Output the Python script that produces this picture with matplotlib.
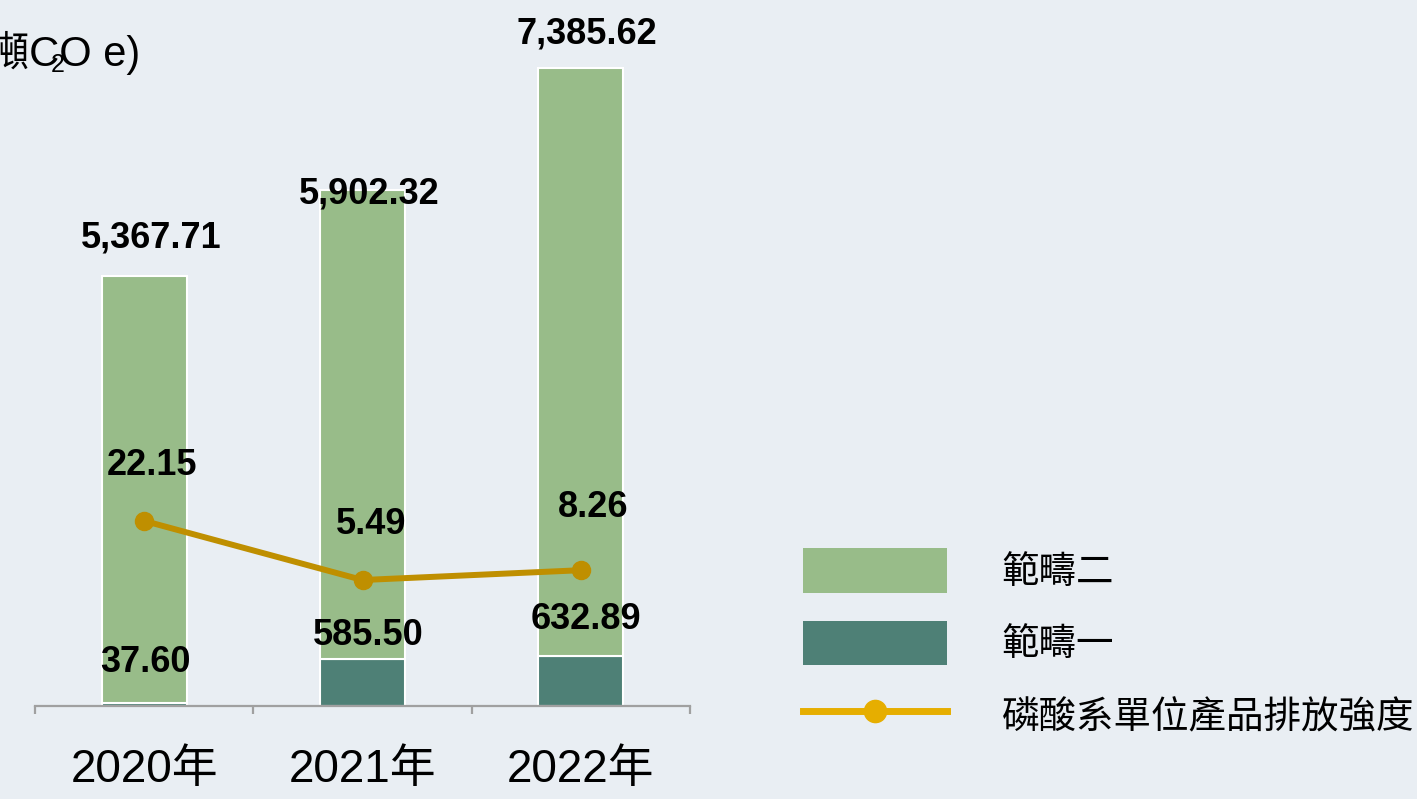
import matplotlib
matplotlib.use("Agg")
import matplotlib.pyplot as plt
from matplotlib.patches import Patch
from matplotlib.lines import Line2D

### Data
years = ["2020年", "2021年", "2022年"]
scope1 = [37.60, 585.50, 632.89]
scope2 = [5367.71, 5902.32, 7385.62]
intensity = [22.15, 5.49, 8.26]

### Styles
bg = "#E9EEF3"
c_scope2 = "#98BC89"
c_scope1 = "#4E8076"
c_line = "#BF8F00"
c_line_legend = "#E6AE00"
num_font = ["Liberation Sans", "Noto Sans CJK TC"]
cjk_font = ["Noto Sans CJK TC", "Liberation Sans"]

### label offsets in points ( dx , dy ) from the anchor
off_scope2 = [(5, 27), (5, -3), (4, 24)]
off_scope1 = [(1, 29), (4, 17), (4, 26)]
off_line = [(6, 40), (6, 40), (9, 45)]

fig = plt.figure(figsize=(14.17, 7.99), dpi=100, facecolor=bg)
ax = fig.add_axes([35 / 1417, 1 - 706 / 799, 655 / 1417, 706 / 799])
ax.set_facecolor(bg)

x = list(range(len(years)))
width = 0.39

ax.bar(x, scope1, width, color=c_scope1, edgecolor="white", linewidth=1.5, zorder=2)
ax.bar(x, scope2, width, bottom=scope1, color=c_scope2, edgecolor="white", linewidth=1.5, zorder=2)

ax.set_xlim(-0.5, len(years) - 0.5)
ax.set_ylim(0, 8870)

### Axis styling
for side in ["top", "left", "right"]:
    ax.spines[side].set_visible(False)
ax.spines["bottom"].set_color("#A0A0A0")
ax.spines["bottom"].set_linewidth(1.6)
ax.set_yticks([])
ax.set_xticks([i - 0.5 for i in range(len(years) + 1)])
ax.set_xticklabels([])
ax.tick_params(axis="x", which="major", length=6, width=1.6, color="#A0A0A0")
ax.set_xticks(x, minor=True)
ax.set_xticklabels(years, minor=True, fontsize=33, family=num_font)
ax.tick_params(axis="x", which="minor", length=0, pad=30)

### Value labels on bars
for i in x:
    ax.annotate(f"{scope2[i]:,.2f}", (i, scope1[i] + scope2[i]), xytext=off_scope2[i],
                textcoords="offset points", ha="center", va="center",
                fontsize=26, fontweight="bold", family=num_font, zorder=5)
    ax.annotate(f"{scope1[i]:,.2f}", (i, scope1[i]), xytext=off_scope1[i],
                textcoords="offset points", ha="center", va="center",
                fontsize=26, fontweight="bold", family=num_font, zorder=5)

### Intensity line on second axis
ax2 = ax.twinx()
ax2.set_ylim(-30, 168.9)
ax2.axis("off")
ax2.plot(x, intensity, color=c_line, linewidth=4.3, marker="o", markersize=13, zorder=3)
for i in x:
    ax2.annotate(f"{intensity[i]:.2f}", (i, intensity[i]), xytext=off_line[i],
                 textcoords="offset points", ha="center", va="center",
                 fontsize=26, fontweight="bold", family=num_font, zorder=5)

### Unit label ( partly outside the figure )
fig.text(140 / 1417, 1 - 66 / 799, "(公噸CO e)", ha="right", va="baseline",
         fontsize=30, family=num_font)
fig.text(58 / 1417, 1 - 72 / 799, "2", ha="center", va="baseline",
         fontsize=18, family=num_font)

### Legend
handles = [
    Patch(facecolor=c_scope2, edgecolor="none"),
    Patch(facecolor=c_scope1, edgecolor="none"),
    Line2D([], [], color=c_line_legend, linewidth=5, marker="o", markersize=16),
]
labels = ["範疇二", "範疇一", "磷酸系單位產品排放強度"]
fig.legend(handles, labels, loc="upper left", bbox_to_anchor=(803 / 1417, 1 - 548 / 799),
           frameon=False, prop={"family": cjk_font, "size": 27}, borderpad=0,
           borderaxespad=0, handlelength=3.85, handleheight=1.45, handletextpad=1.45,
           labelspacing=0.75)

fig.savefig("out.png", dpi=100, facecolor=bg)
